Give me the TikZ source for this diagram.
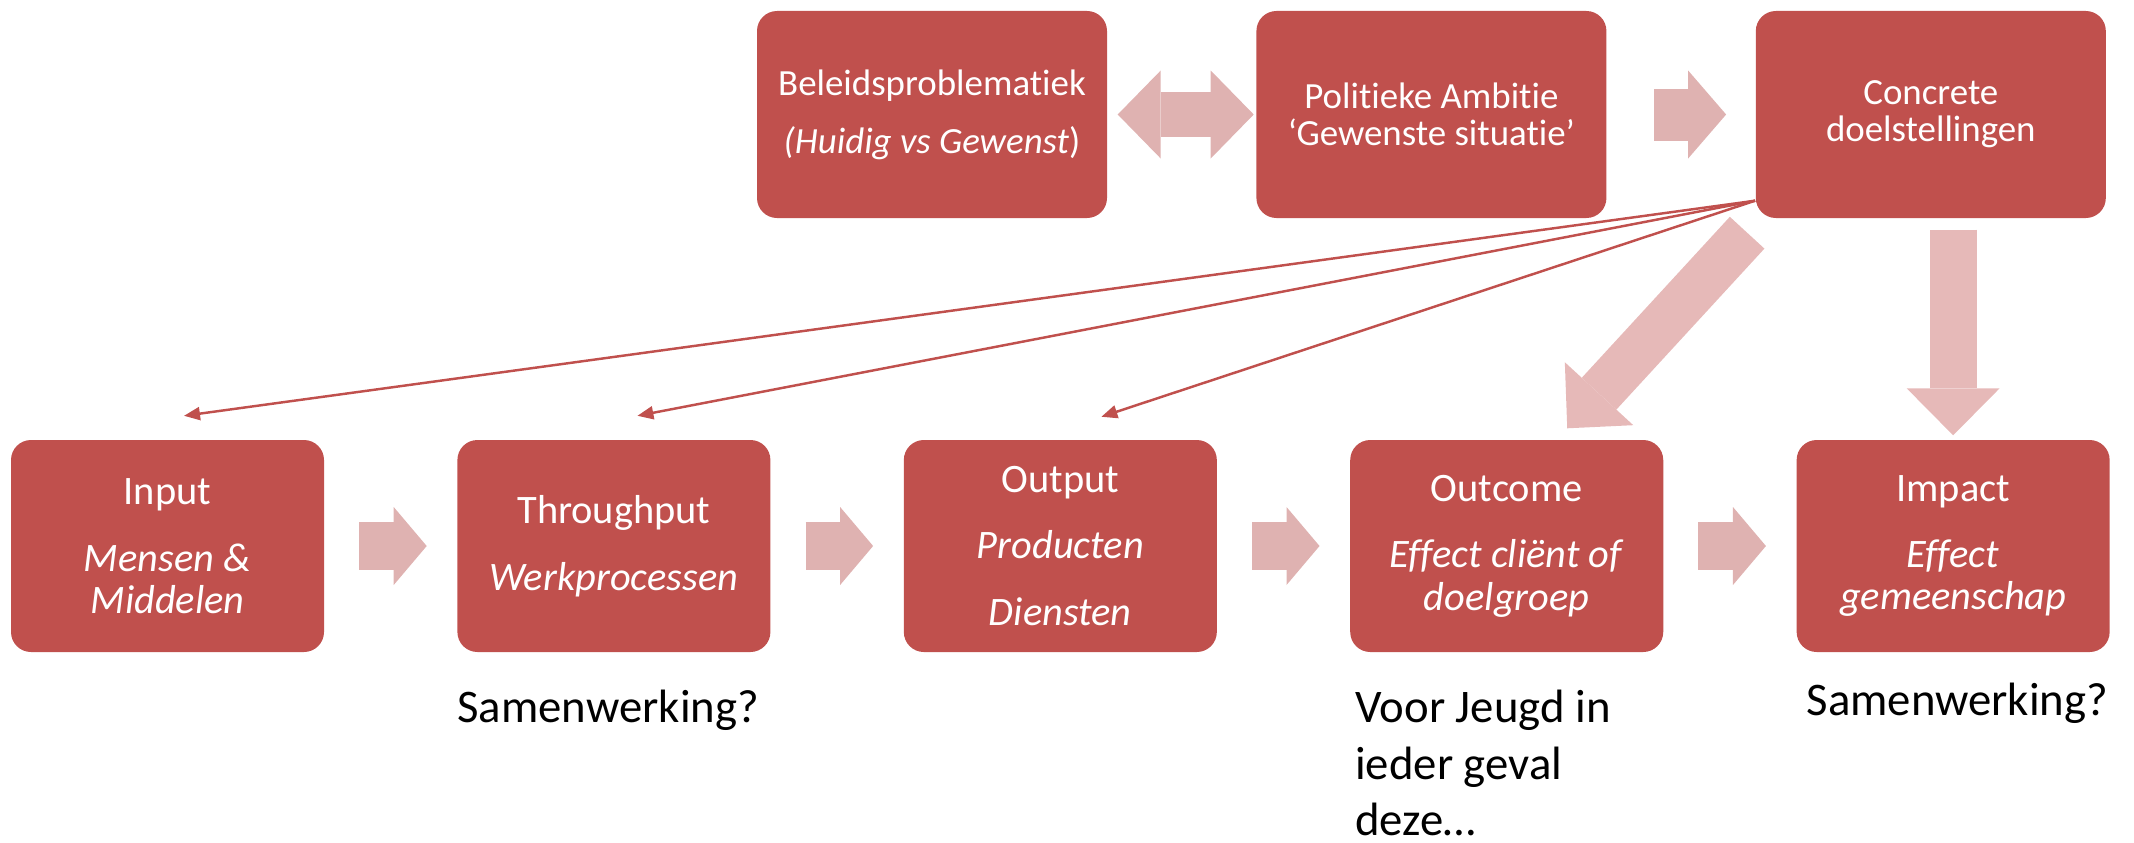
\documentclass[tikz,border=0pt]{standalone}
\usepackage{fontspec}
\setmainfont{Carlito}[Ligatures=NoCommon]
\usetikzlibrary{arrows.meta, positioning, calc}
\definecolor{boxred}{HTML}{C0504D}
\definecolor{palered}{HTML}{DFB2B1}
\definecolor{lightred}{HTML}{E6B9B8}

\begin{document}
\begin{tikzpicture}[
        node distance=1.32cm,
        box/.style={rectangle, fill=boxred, text=white, rounded corners=0.2cm, minimum width=3.13cm, minimum height=2.12cm, inner sep=0pt, align=center, font=\fontsize{11.5}{12}\selectfont},
        topbox/.style={box, minimum width=3.5cm, minimum height=2.07cm, font=\fontsize{10.5}{10.5}\selectfont},
        note/.style={anchor=north west, inner sep=0pt, align=left, font=\fontsize{13.3}{16}\selectfont},
        link/.style={draw=boxred, line width=0.7pt, -{Triangle[length=0.16cm, width=0.13cm]}},
        flow/.style={draw=palered, line width=0.48cm, -{Triangle[length=0.33cm, width=0.78cm, line width=0pt 0 0]}, shorten <=0.345cm, shorten >=0.30cm},
        bigflow/.style={draw=lightred, line width=0.47cm, -{Triangle[length=0.47cm, width=0.93cm, line width=0pt 0 0]}}
    ]
        \useasboundingbox (0,0) rectangle (21.34,8.42);

        % bottom row
        \node[box] (input) at (1.675,2.96) {Input\\[7pt]\textit{Mensen \&}\\\textit{Middelen}};
        \node[box, right=of input] (throughput) {Throughput\\[7pt]\textit{Werkprocessen}};
        \node[box, right=of throughput] (output) {Output\\[7pt]\textit{Producten}\\[7pt]\textit{Diensten}};
        \node[box, right=of output] (outcome) {Outcome\\[7pt]\textit{Effect cliënt of}\\\textit{doelgroep}};
        \node[box, right=of outcome] (impact) {Impact\\[7pt]\textit{Effect}\\\textit{gemeenschap}};

        % top row
        \node[topbox] (beleid) at (9.32,7.275) {Beleidsproblematiek\\[6pt]\textit{(Huidig vs Gewenst})};
        \node[topbox, right=1.48cm of beleid] (ambitie) {Politieke Ambitie\\‘Gewenste situatie’};
        \node[topbox, right=1.48cm of ambitie] (doelen) {Concrete\\doelstellingen};

        % fat arrows
        \draw[draw=palered, line width=0.45cm, {Triangle[length=0.43cm, width=0.88cm, line width=0pt 0 0]}-{Triangle[length=0.43cm, width=0.88cm, line width=0pt 0 0]}, shorten <=0.10cm, shorten >=0.02cm] (beleid) -- (ambitie);
        \draw[draw=palered, line width=0.52cm, -{Triangle[length=0.38cm, width=0.88cm, line width=0pt 0 0]}, shorten <=0.47cm, shorten >=0.29cm] (ambitie) -- (doelen);
        \draw[flow] (input) -- (throughput);
        \draw[flow] (throughput) -- (output);
        \draw[flow] (output) -- (outcome);
        \draw[flow] (outcome) -- (impact);

        \coordinate (diagtail) at ([shift={(-0.08,-0.14)}]doelen.south west);
        \coordinate (diagtip) at ([shift={(0.605,0.11)}]outcome.north);
        \draw[bigflow] (diagtail) -- (diagtip);
        \draw[bigflow, shorten <=0.11cm, shorten >=0.04cm] (doelen.south -| impact) -- (impact.north);

        % thin links
        \coordinate (fan) at ([yshift=0.18cm]doelen.south west);
        \coordinate (inputtip) at ([shift={(0.165,0.235)}]input.north);
        \coordinate (throughputtip) at ([shift={(0.235,0.235)}]throughput.north);
        \coordinate (outputtip) at ([shift={(0.41,0.225)}]output.north);
        \draw[link] (fan) -- (inputtip);
        \draw[link] (fan) -- (throughputtip);
        \draw[link] (fan) -- (outputtip);

        % notes
        \node[note] (samenA) at ([yshift=-0.37cm]throughput.south west) {Samenwerking?};
        \node[note] (jeugd) at ([shift={(0.05,-0.37)}]outcome.south west) {Voor Jeugd in\\ieder geval\\deze…};
        \node[note] (samenB) at ([shift={(0.10,-0.30)}]impact.south west) {Samenwerking?};

    \end{tikzpicture}
\end{document}
